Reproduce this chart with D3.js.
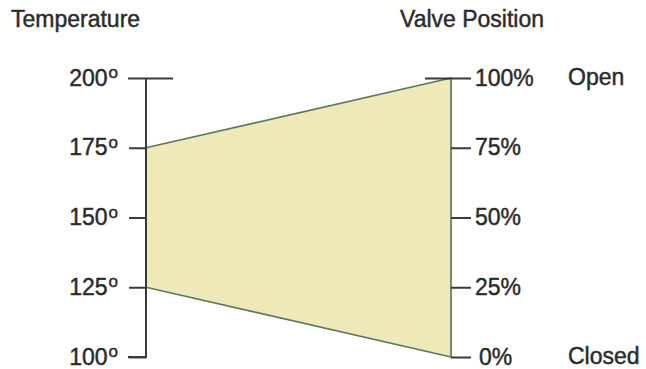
<!DOCTYPE html>
<html>
<head>
<meta charset="utf-8">
<script src="https://cdn.jsdelivr.net/npm/d3@7/dist/d3.min.js"></script>
<style>
  html, body { margin: 0; padding: 0; background: #fff; }
  svg text { font-family: "Liberation Sans", Arial, sans-serif; fill: #2b2b2b; stroke: #2b2b2b; stroke-width: 0.45px; }
</style>
</head>
<body>
<svg id="chart" width="646" height="369"></svg>
<script>
// Temperature scale (left) and valve position scale (right)
const tempTicks = [100, 125, 150, 175, 200];
const valveTicks = [0, 25, 50, 75, 100];
// Proportional band: temperature at which the valve is closed / fully open
const bandTemps = [125, 175];
const bandValves = [0, 100];
const valveStates = [{ value: 100, label: "Open" }, { value: 0, label: "Closed" }];

const svg = d3.select("#chart");
const xLeft = 146, xRight = 451;
const fontSize = 23;
const labelDy = 7;

const yTemp = d3.scaleLinear().domain([100, 200]).range([357, 78]);
const yValve = d3.scaleLinear().domain([0, 100]).range([357, 78]);

// Shaded band from the temperature range to the full valve range
const poly = [
  [xLeft, yTemp(bandTemps[1])],
  [xRight, yValve(bandValves[1])],
  [xRight, yValve(bandValves[0])],
  [xLeft, yTemp(bandTemps[0])]
];
svg.append("path")
  .attr("d", d3.line()(poly) + "Z")
  .attr("fill", "#efe8b8")
  .attr("stroke", "none");
svg.append("path")
  .attr("d", d3.line()(poly))
  .attr("fill", "none")
  .attr("stroke", "#5b7a5c")
  .attr("stroke-width", 1.7);

// Left (temperature) axis
const leftAxis = d3.axisLeft(yTemp).tickValues(tempTicks).tickSize(17).tickFormat("");
const gL = svg.append("g").attr("transform", `translate(${xLeft},0)`).call(leftAxis);
gL.select(".domain").attr("d", `M-18,${yTemp(100)}H0V${yTemp(200)}`)
  .attr("stroke", "#3a3a3a").attr("stroke-width", 2);
gL.selectAll(".tick line").attr("stroke", "#3a3a3a").attr("stroke-width", 2);
// top tick spans both sides of the axis
gL.selectAll(".tick").filter(d => d === 200).select("line").attr("x1", 27).attr("x2", -18);

gL.selectAll(".tick").append("text")
  .attr("x", -28).attr("y", labelDy).attr("text-anchor", "end")
  .style("font-size", fontSize + "px")
  .each(function(d) {
    const t = d3.select(this);
    t.append("tspan").text(d);
    t.append("tspan").attr("dx", 1).attr("dy", -7.5).style("font-size", "17px").text("o");
  });

// Right (valve position) axis: ticks only, the band edge forms the line
const rightAxis = d3.axisRight(yValve).tickValues(valveTicks).tickSize(20).tickFormat("");
const gR = svg.append("g").attr("transform", `translate(${xRight},0)`).call(rightAxis);
gR.select(".domain").remove();
gR.selectAll(".tick line").attr("stroke", "#3a3a3a").attr("stroke-width", 2);
gR.selectAll(".tick").filter(d => d === 100).select("line").attr("x1", -26);
gR.selectAll(".tick").append("text")
  .attr("x", d => d === 0 ? 28 : 24).attr("y", labelDy)
  .style("font-size", fontSize + "px")
  .text(d => d + "%");

// Valve state labels
svg.selectAll(".state").data(valveStates).enter().append("text")
  .attr("class", "state")
  .attr("x", 568).attr("y", d => yValve(d.value) + labelDy)
  .style("font-size", fontSize + "px")
  .text(d => d.label);

// Axis titles
svg.append("text").attr("x", 11).attr("y", 27).style("font-size", fontSize + "px").text("Temperature");
svg.append("text").attr("x", 400).attr("y", 27).style("font-size", fontSize + "px").text("Valve Position");
</script>
</body>
</html>
